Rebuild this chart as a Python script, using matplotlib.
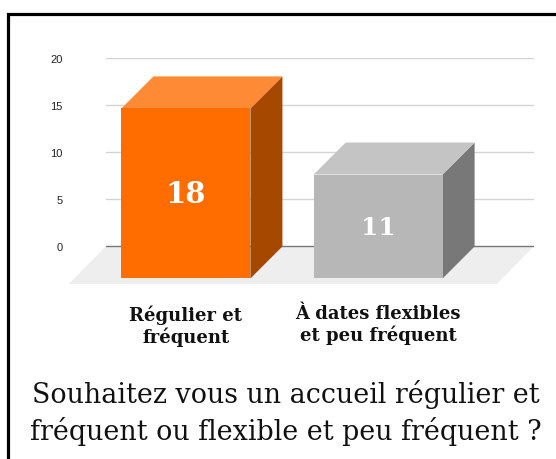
import matplotlib
matplotlib.use('Agg')
from matplotlib import pyplot as plt
from matplotlib.patches import Polygon, Rectangle

# data
categories = ['Régulier et\nfréquent', 'À dates flexibles\net peu fréquent']
counts = [18, 11]
yticks = [0, 5, 10, 15, 20]
title = 'Souhaitez vous un accueil régulier et\nfréquent ou flexible et peu fréquent ?'

front_cols = ['#ff6d01', '#b7b7b7']
top_cols = ['#ff8a36', '#c4c4c4']
side_cols = ['#a64800', '#787878']
label_sizes = [21, 18]

W, H = 556, 460
fig = plt.figure(figsize=(W / 100, H / 100), dpi=100)

# axes spans the back plane (grid range), extended downward for the floor
ax = fig.add_axes([105.7 / W, 1 - 290 / H, 428 / W, (290 - 58.5) / H])
ax.set_xlim(-0.584, 1.643)
ax.set_ylim(-4.5, 20)
for s in ax.spines.values():
    s.set_visible(False)

bw = 0.671      # bar width
ddx = 0.1665    # depth of a bar, x units
ddy = 3.386     # depth of a bar, y units
fdx = 0.1925    # depth of the floor
fdy = 3.97

xl, xr = ax.get_xlim()
floor = Polygon([(xl, 0), (xr, 0), (xr - fdx, -fdy), (xl - fdx, -fdy)],
                closed=True, facecolor='#eeeeee', edgecolor='none', zorder=0, clip_on=False)
ax.add_patch(floor)

for t in yticks[1:]:
    ax.axhline(t, color='#d4d4d4', lw=1.0, zorder=1)
ax.axhline(0, color='#777777', lw=1.0, zorder=1)

for i, v in enumerate(counts):
    c = i
    l, r = c - bw / 2, c + bw / 2
    front = [(l - ddx, -ddy), (r - ddx, -ddy), (r - ddx, v - ddy), (l - ddx, v - ddy)]
    top = [(l - ddx, v - ddy), (r - ddx, v - ddy), (r, v), (l, v)]
    side = [(r - ddx, -ddy), (r, 0), (r, v), (r - ddx, v - ddy)]
    ax.add_patch(Polygon(side, closed=True, facecolor=side_cols[i], edgecolor='none', zorder=3, clip_on=False))
    ax.add_patch(Polygon(top, closed=True, facecolor=top_cols[i], edgecolor='none', zorder=3, clip_on=False))
    ax.add_patch(Polygon(front, closed=True, facecolor=front_cols[i], edgecolor='none', zorder=4, clip_on=False))
    ax.text(c - ddx, v / 2 - ddy, str(v), ha='center', va='center', color='white',
            fontsize=label_sizes[i], fontweight='bold', family='DejaVu Serif', zorder=5)

ax.set_yticks(yticks)
ax.set_yticklabels([str(t) for t in yticks], family='Liberation Sans', fontsize=8, color='#222222')
ax.tick_params(axis='y', length=0, pad=31)
ax.set_xticks([i - ddx for i in range(len(categories))])
ax.set_xticklabels(categories, family='DejaVu Serif', fontweight='bold', fontsize=13,
                   linespacing=1.15, color='#111111')
ax.tick_params(axis='x', length=0, pad=11)

fig.text(285.5 / W, 1 - 413 / H, title, ha='center', va='center', family='DejaVu Serif',
         fontsize=19.4, linespacing=1.32, color='#111111')

# frame, open on the right and bottom
fig.add_artist(Rectangle((8 / W, -0.5), 2, 1.5 - 14.5 / H, transform=fig.transFigure,
                         fill=False, edgecolor='black', lw=2.3))

fig.savefig('out.png', dpi=100)
